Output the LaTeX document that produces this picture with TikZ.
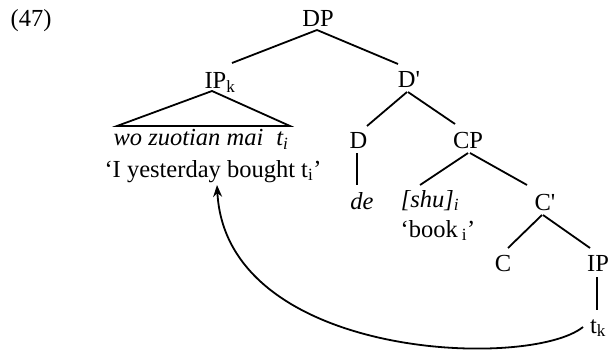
\documentclass[tikz,border=0pt]{standalone}
\usepackage{fontspec}
\setmainfont{Liberation Serif}[Ligatures=TeXOff]
\usetikzlibrary{calc,arrows.meta}
\begin{document}
\begin{tikzpicture}[x=1pt,y=-1pt,
  lbl/.style={anchor=base,inner sep=0pt,font=\fontsize{24.5}{29}\selectfont},
  edge/.style={line width=1.8pt},
  movearrow/.style={line width=1.8pt,-{Stealth[length=12pt,width=9pt]}}]
\useasboundingbox (0,0) rectangle (610,350);
% nodes (anchor = base, at (x center, baseline))
\node[lbl] (ex)   at (31,27)   {(47)};
\node[lbl] (DP)   at (318,27)  {DP};
\node[lbl] (IPk)  at (220,89)  {IP\textsubscript{k}};
\node[lbl] (wo)   at (201,146) {\itshape wo zuotian mai\hspace{13pt}t\textsubscript{i}};
\node[lbl] (gl)   at (213,177) {‘I yesterday bought t\textsubscript{i}’};
\node[lbl] (Dbar) at (409,88)  {D'};
\node[lbl] (D)    at (358.5,148) {D};
\node[lbl] (CP)   at (468,148) {CP};
\node[lbl] (de)   at (362,209) {\itshape de};
\node[lbl] (shu)  at (430,207) {\itshape [shu]\textsubscript{i}};
\node[lbl] (book) at (438,237) {‘book\,\textsubscript{i}’};
\node[lbl] (Cbar) at (545,210) {C'};
\node[lbl] (C)    at (503,271) {C};
\node[lbl] (IP)   at (598,271) {IP};
\node[lbl] (tk)   at (598,333) {t\textsubscript{k}};
% branches
\draw[edge] ($(DP.base)+(-1,3)$) -- ($(IPk.base)+(12,-26)$);
\draw[edge] ($(DP.base)+(-1,3)$) -- ($(Dbar.base)+(-11,-24)$);
\draw[edge] ($(IPk.base)+(-8,2)$) -- ($(wo.base)+(-84,-20)$) -- ($(wo.base)+(89,-20)$) -- cycle;
\draw[edge] ($(Dbar.base)+(-2,4)$) -- ($(D.base)+(8.5,-22)$);
\draw[edge] ($(Dbar.base)+(-1,4)$) -- ($(CP.base)+(-13,-24)$);
\draw[edge] ($(D.base)+(-1.5,5)$) -- ($(de.base)+(-5,-24)$);
\draw[edge] ($(CP.base)+(0,5)$) -- ($(shu.base)+(-10,-22)$);
\draw[edge] ($(CP.base)+(2,5)$) -- ($(Cbar.base)+(-18,-25)$);
\draw[edge] ($(Cbar.base)+(-3,5)$) -- ($(C.base)+(5,-23)$);
\draw[edge] ($(Cbar.base)+(-2,5)$) -- ($(IP.base)+(-8,-23)$);
\draw[edge] ($(IP.base)+(-1,6)$) -- ($(tk.base)+(-1,-23)$);
% movement arrow
\draw[movearrow] ($(tk.base)+(-15,-6)$) .. controls (530,370) and (226,360) .. ($(gl.base)+(4,8)$);
\end{tikzpicture}
\end{document}
